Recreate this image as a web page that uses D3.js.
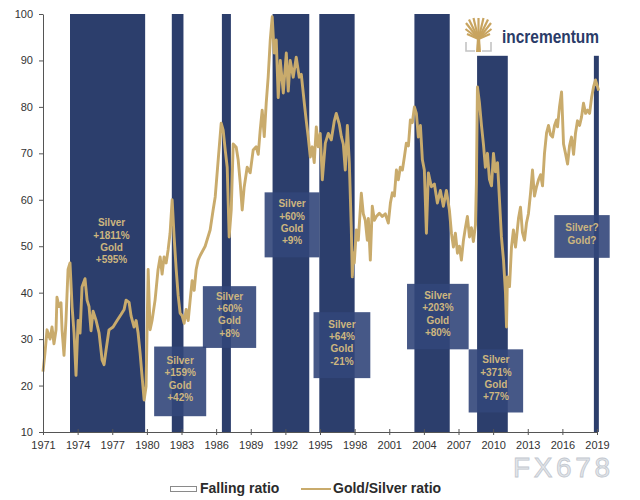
<!DOCTYPE html>
<html>
<head>
<meta charset="utf-8">
<script src="https://cdn.jsdelivr.net/npm/d3@7"></script>
<style>
body { margin: 0; background: #fff; }
svg text { font-family: "Liberation Sans", Arial, sans-serif; }
</style>
</head>
<body>
<svg id="chart" width="640" height="500"></svg>
<script>
/* gold/silver ratio, falling-ratio periods */

// ratio series (decimal year, value)
const years = [
  1971.00, 1971.17, 1971.35, 1971.61, 1971.78, 1971.95, 1972.13, 1972.21, 1972.39, 1972.56,
  1972.65, 1972.82, 1972.99, 1973.17, 1973.34, 1973.52, 1973.69, 1973.86, 1974.04, 1974.21,
  1974.38, 1974.64, 1974.82, 1974.99, 1975.16, 1975.34, 1975.60, 1975.86, 1976.12, 1976.29,
  1976.46, 1976.72, 1977.07, 1977.42, 1977.76, 1978.03, 1978.20, 1978.46, 1978.63, 1978.89,
  1979.07, 1979.24, 1979.41, 1979.59, 1979.76, 1979.93, 1980.11, 1980.28, 1980.45, 1980.71,
  1980.97, 1981.15, 1981.32, 1981.49, 1981.67, 1981.84, 1982.01, 1982.19, 1982.36, 1982.54,
  1982.71, 1982.88, 1983.06, 1983.23, 1983.40, 1983.58, 1983.75, 1983.92, 1984.10, 1984.27,
  1984.44, 1984.62, 1985.05, 1985.48, 1985.74, 1985.92, 1986.18, 1986.44, 1986.61, 1986.79,
  1986.96, 1987.13, 1987.31, 1987.48, 1987.74, 1987.91, 1988.09, 1988.26, 1988.43, 1988.69,
  1988.95, 1989.21, 1989.47, 1989.65, 1989.82, 1989.99, 1990.17, 1990.34, 1990.51, 1990.69,
  1990.86, 1991.03, 1991.21, 1991.38, 1991.56, 1991.82, 1992.08, 1992.25, 1992.42, 1992.68,
  1992.94, 1993.20, 1993.38, 1993.64, 1993.81, 1993.98, 1994.16, 1994.33, 1994.50, 1994.68,
  1994.85, 1995.02, 1995.20, 1995.46, 1995.72, 1995.98, 1996.24, 1996.41, 1996.67, 1996.85,
  1997.02, 1997.19, 1997.37, 1997.54, 1997.71, 1997.80, 1997.89, 1997.97, 1998.15, 1998.32,
  1998.58, 1998.75, 1998.92, 1999.10, 1999.19, 1999.36, 1999.53, 1999.71, 1999.88, 2000.14,
  2000.40, 2000.66, 2000.92, 2001.10, 2001.27, 2001.44, 2001.62, 2001.79, 2001.96, 2002.14,
  2002.31, 2002.48, 2002.66, 2002.83, 2003.00, 2003.18, 2003.35, 2003.52, 2003.70, 2003.87,
  2004.04, 2004.22, 2004.39, 2004.65, 2004.91, 2005.17, 2005.43, 2005.69, 2005.95, 2006.21,
  2006.39, 2006.56, 2006.73, 2006.91, 2007.08, 2007.25, 2007.43, 2007.60, 2007.77, 2007.95,
  2008.12, 2008.29, 2008.47, 2008.55, 2008.64, 2008.81, 2008.99, 2009.16, 2009.33, 2009.51,
  2009.68, 2009.86, 2010.03, 2010.20, 2010.38, 2010.55, 2010.72, 2010.90, 2011.07, 2011.16,
  2011.24, 2011.42, 2011.59, 2011.76, 2011.94, 2012.20, 2012.37, 2012.54, 2012.72, 2012.89,
  2013.06, 2013.24, 2013.41, 2013.58, 2013.76, 2013.93, 2014.11, 2014.28, 2014.45, 2014.63,
  2014.80, 2014.97, 2015.15, 2015.32, 2015.49, 2015.58, 2015.75, 2015.93, 2016.10, 2016.27,
  2016.45, 2016.62, 2016.79, 2016.97, 2017.14, 2017.31, 2017.49, 2017.66, 2017.83, 2018.01,
  2018.18, 2018.36, 2018.53, 2018.70, 2018.87, 2019.05, 2019.14
];
const ratio = [
  23.0, 27.0, 32.0, 30.0, 32.6, 29.0, 32.0, 39.0, 37.0, 37.8,
  32.0, 26.5, 34.0, 45.0, 46.4, 37.0, 31.3, 22.2, 34.0, 31.3,
  41.2, 43.0, 38.4, 37.0, 31.8, 36.0, 34.0, 31.3, 25.5, 24.5,
  27.6, 32.0, 32.6, 34.0, 35.3, 36.4, 38.4, 37.9, 35.0, 32.6,
  34.0, 31.3, 27.1, 21.8, 16.9, 19.8, 45.0, 32.0, 34.0, 38.4,
  45.0, 47.7, 44.0, 47.7, 46.4, 49.2, 52.8, 60.0, 52.0, 45.0,
  39.4, 35.6, 35.0, 33.4, 36.4, 34.0, 38.4, 42.6, 40.5, 45.0,
  47.0, 48.0, 50.0, 53.5, 57.8, 60.6, 68.6, 76.5, 75.0, 70.7,
  67.0, 52.0, 57.8, 72.0, 71.3, 68.6, 63.6, 57.8, 62.7, 67.0,
  65.8, 70.7, 71.4, 69.8, 75.0, 79.3, 73.6, 80.8, 86.4, 94.4,
  99.4, 91.6, 94.4, 82.0, 90.0, 83.0, 91.6, 83.4, 90.0, 86.4,
  90.7, 86.4, 87.0, 80.8, 77.0, 73.5, 69.2, 71.4, 68.0, 75.7,
  71.4, 74.3, 64.3, 72.2, 74.3, 72.9, 77.0, 78.6, 76.3, 73.6,
  72.0, 66.4, 76.0, 68.0, 54.0, 43.4, 48.5, 46.4, 53.5, 51.3,
  61.4, 57.0, 55.6, 51.3, 56.0, 47.0, 58.6, 55.6, 56.4, 57.1,
  56.4, 57.0, 55.0, 59.3, 61.5, 60.8, 66.4, 64.3, 67.0, 66.4,
  69.2, 72.2, 71.6, 77.2, 76.6, 80.0, 78.6, 73.5, 76.0, 68.6,
  66.4, 52.8, 65.8, 62.8, 63.4, 59.3, 62.0, 58.6, 62.0, 57.8,
  52.8, 49.8, 52.8, 48.5, 50.0, 47.0, 51.3, 54.0, 56.4, 52.0,
  54.0, 51.0, 54.6, 63.6, 84.3, 81.0, 76.0, 72.0, 67.0, 70.0,
  64.4, 63.0, 70.0, 66.0, 68.0, 60.0, 52.0, 47.0, 40.0, 32.6,
  43.4, 41.3, 49.8, 53.5, 49.8, 56.0, 58.4, 53.0, 51.3, 55.0,
  57.0, 61.4, 66.4, 60.8, 62.8, 64.3, 65.4, 63.0, 70.0, 74.4,
  76.0, 74.0, 73.5, 76.0, 77.2, 75.7, 80.0, 83.2, 72.0, 70.0,
  67.7, 71.6, 73.5, 69.8, 74.4, 77.0, 76.0, 77.8, 80.8, 78.6,
  79.3, 78.6, 82.0, 84.3, 85.8, 84.3, 83.5
];

// falling ratio periods
const fallStart = [1973.34, 1982.16, 1986.50, 1990.89, 1994.94, 2003.18, 2008.61, 2018.73];
const fallEnd   = [1979.85, 1983.17, 1987.28, 1994.07, 1998.00, 2006.24, 2011.27, 2019.16];
const fallTop   = [100, 100, 100, 100, 100, 100, 91, 91];

// annotation boxes
const boxYears  = [[1980.63, 1985.14], [1984.85, 1989.47], [1990.20, 1994.96], [1994.44, 1999.36],
                   [2002.54, 2007.88], [2007.88, 2012.60], [2015.30, 2020.10]];
const boxValues = [[13.4, 28.4], [28.1, 41.4], [47.6, 61.6], [21.6, 35.8],
                   [27.8, 41.9], [14.2, 27.8], [47.5, 56.7]];
const boxLabels = [
  ["Silver", "+159%", "Gold", "+42%"],
  ["Silver", "+60%", "Gold", "+8%"],
  ["Silver", "+60%", "Gold", "+9%"],
  ["Silver", "+64%", "Gold", "-21%"],
  ["Silver", "+203%", "Gold", "+80%"],
  ["Silver", "+371%", "Gold", "+77%"],
  ["Silver?", "Gold?"]
];
const firstLabel = ["Silver", "+1811%", "Gold", "+595%"];
const firstLabelAt = [1976.94, 51.1];

const xTicks = d3.range(1971, 2020, 3);
const yTicks = d3.range(10, 101, 10);

const navy = "#2c3e6c";
const tan = "#c9ab6c";
const labelColor = "#cdb67f";

const svg = d3.select("#chart");
const x = d3.scaleLinear().domain([1971, 2019]).range([43, 597]);
const y = d3.scaleLinear().domain([10, 100]).range([432, 14]);

// bars
svg.append("g").selectAll("rect").data(fallStart).enter()
  .append("rect")
  .attr("x", (d, i) => x(d))
  .attr("width", (d, i) => x(fallEnd[i]) - x(d))
  .attr("y", (d, i) => y(fallTop[i]))
  .attr("height", (d, i) => y(10) - y(fallTop[i]))
  .attr("fill", navy);

// ratio line
const series = years.map((d, i) => ({year: d, value: ratio[i]}));
svg.append("path")
  .datum(series)
  .attr("fill", "none")
  .attr("stroke", tan)
  .attr("stroke-width", 2.9)
  .attr("stroke-linejoin", "round")
  .attr("d", d3.line().x(d => x(d.year)).y(d => y(d.value)));

// boxes with labels
const boxes = svg.append("g").selectAll("g").data(boxLabels).enter().append("g");
boxes.append("rect")
  .attr("x", (d, i) => x(boxYears[i][0]))
  .attr("width", (d, i) => x(boxYears[i][1]) - x(boxYears[i][0]))
  .attr("y", (d, i) => y(boxValues[i][1]))
  .attr("height", (d, i) => y(boxValues[i][0]) - y(boxValues[i][1]))
  .attr("fill", "rgb(50,70,122)")
  .attr("fill-opacity", 0.9);
boxes.each(function(lines, i) {
  const cx = (x(boxYears[i][0]) + x(boxYears[i][1])) / 2;
  const cy = (y(boxValues[i][0]) + y(boxValues[i][1])) / 2 - 2.5;
  const step = lines.length > 2 ? 12.3 : 13;
  d3.select(this).selectAll("text").data(lines).enter()
    .append("text")
    .attr("x", cx)
    .attr("y", (t, j) => cy + (j - (lines.length - 1) / 2) * step)
    .attr("dy", "0.35em")
    .attr("text-anchor", "middle")
    .attr("font-size", 10)
    .attr("font-weight", "bold")
    .attr("fill", labelColor)
    .text(t => t);
});

svg.append("g").selectAll("text").data(firstLabel).enter()
  .append("text")
  .attr("x", x(firstLabelAt[0]))
  .attr("y", (t, j) => y(firstLabelAt[1]) + (j - 1.5) * 12.2)
  .attr("dy", "0.35em")
  .attr("text-anchor", "middle")
  .attr("font-size", 10)
  .attr("font-weight", "bold")
  .attr("fill", labelColor)
  .text(t => t);

// axes
const yAxis = svg.append("g")
  .attr("transform", `translate(${x(1971)},0)`)
  .call(d3.axisLeft(y).tickValues(yTicks).tickSize(4).tickSizeOuter(0).tickPadding(6));
const xAxis = svg.append("g")
  .attr("transform", `translate(0,${y(10)})`)
  .call(d3.axisBottom(x).tickValues(xTicks).tickFormat(d3.format("d")).tickSize(3).tickSizeOuter(0).tickPadding(6));
xAxis.selectAll(".tick line").attr("y1", -3);
[yAxis, xAxis].forEach(g => {
  g.select(".domain").attr("stroke", "#555");
  g.selectAll(".tick line").attr("stroke", "#555");
  g.selectAll("text").attr("font-size", 11).attr("fill", "#333")
    .attr("font-family", "'Liberation Sans', Arial, sans-serif");
});

// logo
const logo = svg.append("g").attr("transform", "translate(465,18)");
const branchEnds = [[1, 5], [4, 1.5], [8.5, 0], [13.5, 0], [18.5, 0], [23, 1.5], [26, 5], [0.5, 11], [26.5, 11], [2, 16], [25, 16]];
logo.selectAll("line").data(branchEnds).enter()
  .append("line")
  .attr("x1", 13.5).attr("y1", 21)
  .attr("x2", d => d[0]).attr("y2", d => d[1])
  .attr("stroke", "#c8a45f").attr("stroke-width", 2.2);
logo.append("path").attr("d", "M11,34 L12,19 L15,19 L16,34 Z").attr("fill", "#c8a45f");
logo.append("path").attr("d", "M1,24 L1,33 L10,33 M26,24 L26,33 L17,33")
  .attr("fill", "none").attr("stroke", "#c4c4c4").attr("stroke-width", 1.6);
svg.append("text")
  .attr("x", 502).attr("y", 43)
  .attr("font-size", 18)
  .attr("font-weight", "bold")
  .attr("textLength", 97).attr("lengthAdjust", "spacingAndGlyphs")
  .attr("fill", "#2a3b68")
  .text("incrementum");

// watermark
svg.append("text")
  .attr("x", 513).attr("y", 477)
  .attr("font-size", 28)
  .attr("textLength", 97).attr("lengthAdjust", "spacing")
  .attr("fill", "#e3e6ea").attr("stroke", "#c2c7cf").attr("stroke-width", 0.8)
  .text("FX678");

// legend
const legend = svg.append("g");
legend.append("rect").attr("x", 170.5).attr("y", 486.5).attr("width", 26).attr("height", 5)
  .attr("fill", "#fff").attr("stroke", "#8a8a8a");
legend.append("text").attr("x", 200).attr("y", 493).attr("font-size", 14).attr("font-weight", "bold")
  .attr("fill", "#2b2b2b").text("Falling ratio");
legend.append("line").attr("x1", 301).attr("x2", 331).attr("y1", 489).attr("y2", 489)
  .attr("stroke", tan).attr("stroke-width", 2);
legend.append("text").attr("x", 333).attr("y", 493).attr("font-size", 14).attr("font-weight", "bold")
  .attr("fill", "#2b2b2b").text("Gold/Silver ratio");
</script>
</body>
</html>
